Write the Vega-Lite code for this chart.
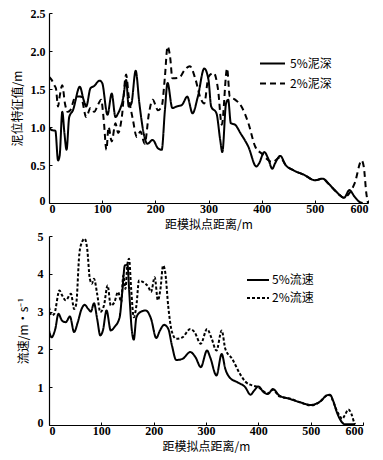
{
  "$schema": "https://vega.github.io/schema/vega-lite/v6.json",
  "padding": {"left": 11, "top": 7, "right": 3, "bottom": 1},
  "spacing": 0,
  "resolve": {"scale": {"strokeDash": "independent"}, "legend": {"strokeDash": "independent"}},
  "config": {
    "font": "Liberation Serif",
    "view": {"stroke": null},
    "axis": {
      "grid": false,
      "domainColor": "#000",
      "domainWidth": 1.2,
      "tickColor": "#000",
      "tickSize": -3,
      "labelFont": "Liberation Serif",
      "labelFontSize": 12,
      "labelFontWeight": "bold",
      "labelColor": "#000",
      "titleFont": "Noto Sans CJK SC",
      "titleFontSize": 12,
      "titleFontWeight": "normal",
      "titleColor": "#000"
    },
    "legend": {
      "labelFont": "Noto Sans CJK SC",
      "labelFontSize": 12,
      "labelColor": "#000",
      "symbolType": "stroke",
      "symbolStrokeColor": "#000",
      "symbolStrokeWidth": 2,
      "padding": 0,
      "title": null
    }
  },
  "vconcat": [
    {
      "width": 319,
      "height": 190,
      "data": {"values": [
        {"x":0,"y":1.0,"s":"5%泥深"},{"x":5,"y":0.96,"s":"5%泥深"},{"x":12,"y":0.95,"s":"5%泥深"},{"x":17,"y":0.56,"s":"5%泥深"},{"x":20,"y":0.62,"s":"5%泥深"},{"x":25,"y":1.2,"s":"5%泥深"},{"x":29,"y":0.92,"s":"5%泥深"},{"x":33,"y":0.7,"s":"5%泥深"},{"x":38,"y":1.13,"s":"5%泥深"},{"x":45,"y":1.22,"s":"5%泥深"},{"x":58,"y":1.53,"s":"5%泥深"},{"x":65,"y":1.36,"s":"5%泥深"},{"x":70,"y":1.27,"s":"5%泥深"},{"x":78,"y":1.51,"s":"5%泥深"},{"x":85,"y":1.54,"s":"5%泥深"},{"x":95,"y":1.61,"s":"5%泥深"},{"x":100,"y":1.58,"s":"5%泥深"},{"x":110,"y":1.16,"s":"5%泥深"},{"x":118,"y":1.44,"s":"5%泥深"},{"x":125,"y":1.13,"s":"5%泥深"},{"x":130,"y":1.18,"s":"5%泥深"},{"x":140,"y":1.4,"s":"5%泥深"},{"x":145,"y":1.62,"s":"5%泥深"},{"x":150,"y":1.27,"s":"5%泥深"},{"x":155,"y":1.31,"s":"5%泥深"},{"x":163,"y":1.74,"s":"5%泥深"},{"x":170,"y":1.31,"s":"5%泥深"},{"x":178,"y":0.92,"s":"5%泥深"},{"x":185,"y":0.78,"s":"5%泥深"},{"x":195,"y":0.83,"s":"5%泥深"},{"x":205,"y":0.72,"s":"5%泥深"},{"x":212,"y":0.7,"s":"5%泥深"},{"x":218,"y":1.22,"s":"5%泥深"},{"x":223,"y":1.58,"s":"5%泥深"},{"x":232,"y":1.25,"s":"5%泥深"},{"x":240,"y":1.27,"s":"5%泥深"},{"x":250,"y":1.29,"s":"5%泥深"},{"x":260,"y":1.4,"s":"5%泥深"},{"x":270,"y":1.18,"s":"5%泥深"},{"x":280,"y":1.4,"s":"5%泥深"},{"x":292,"y":1.77,"s":"5%泥深"},{"x":300,"y":1.62,"s":"5%泥深"},{"x":305,"y":1.27,"s":"5%泥深"},{"x":315,"y":1.18,"s":"5%泥深"},{"x":322,"y":0.83,"s":"5%泥深"},{"x":326,"y":0.67,"s":"5%泥深"},{"x":333,"y":1.31,"s":"5%泥深"},{"x":337,"y":1.36,"s":"5%泥深"},{"x":342,"y":1.05,"s":"5%泥深"},{"x":350,"y":1.03,"s":"5%泥深"},{"x":360,"y":0.92,"s":"5%泥深"},{"x":375,"y":0.74,"s":"5%泥深"},{"x":390,"y":0.48,"s":"5%泥深"},{"x":395,"y":0.52,"s":"5%泥深"},{"x":405,"y":0.67,"s":"5%泥深"},{"x":412,"y":0.59,"s":"5%泥深"},{"x":420,"y":0.45,"s":"5%泥深"},{"x":425,"y":0.52,"s":"5%泥深"},{"x":435,"y":0.62,"s":"5%泥深"},{"x":445,"y":0.5,"s":"5%泥深"},{"x":460,"y":0.43,"s":"5%泥深"},{"x":480,"y":0.37,"s":"5%泥深"},{"x":500,"y":0.3,"s":"5%泥深"},{"x":515,"y":0.32,"s":"5%泥深"},{"x":525,"y":0.26,"s":"5%泥深"},{"x":540,"y":0.15,"s":"5%泥深"},{"x":555,"y":0.07,"s":"5%泥深"},{"x":565,"y":0.17,"s":"5%泥深"},{"x":575,"y":0.08,"s":"5%泥深"},{"x":585,"y":0.01,"s":"5%泥深"},{"x":590,"y":0,"s":"5%泥深"},
        {"x":0,"y":1.66,"s":"2%泥深"},{"x":5,"y":1.62,"s":"2%泥深"},{"x":10,"y":1.55,"s":"2%泥深"},{"x":13,"y":1.51,"s":"2%泥深"},{"x":17,"y":1.27,"s":"2%泥深"},{"x":20,"y":1.4,"s":"2%泥深"},{"x":25,"y":1.55,"s":"2%泥深"},{"x":30,"y":1.31,"s":"2%泥深"},{"x":35,"y":1.2,"s":"2%泥深"},{"x":40,"y":1.22,"s":"2%泥深"},{"x":50,"y":1.4,"s":"2%泥深"},{"x":60,"y":1.4,"s":"2%泥深"},{"x":70,"y":1.13,"s":"2%泥深"},{"x":78,"y":1.25,"s":"2%泥深"},{"x":85,"y":1.2,"s":"2%泥深"},{"x":92,"y":1.29,"s":"2%泥深"},{"x":98,"y":1.36,"s":"2%泥深"},{"x":103,"y":1.09,"s":"2%泥深"},{"x":108,"y":0.7,"s":"2%泥深"},{"x":112,"y":1.0,"s":"2%泥深"},{"x":118,"y":0.81,"s":"2%泥深"},{"x":125,"y":1.05,"s":"2%泥深"},{"x":130,"y":0.92,"s":"2%泥深"},{"x":137,"y":1.13,"s":"2%泥深"},{"x":145,"y":1.69,"s":"2%泥深"},{"x":150,"y":1.4,"s":"2%泥深"},{"x":158,"y":1.09,"s":"2%泥深"},{"x":165,"y":0.87,"s":"2%泥深"},{"x":172,"y":0.94,"s":"2%泥深"},{"x":180,"y":0.78,"s":"2%泥深"},{"x":188,"y":1.18,"s":"2%泥深"},{"x":195,"y":1.36,"s":"2%泥深"},{"x":205,"y":1.22,"s":"2%泥深"},{"x":212,"y":1.27,"s":"2%泥深"},{"x":218,"y":1.66,"s":"2%泥深"},{"x":223,"y":2.06,"s":"2%泥深"},{"x":228,"y":1.91,"s":"2%泥深"},{"x":232,"y":1.64,"s":"2%泥深"},{"x":245,"y":1.65,"s":"2%泥深"},{"x":255,"y":1.75,"s":"2%泥深"},{"x":265,"y":1.8,"s":"2%泥深"},{"x":275,"y":1.64,"s":"2%泥深"},{"x":285,"y":1.38,"s":"2%泥深"},{"x":292,"y":1.31,"s":"2%泥深"},{"x":300,"y":1.66,"s":"2%泥深"},{"x":310,"y":1.71,"s":"2%泥深"},{"x":318,"y":1.49,"s":"2%泥深"},{"x":325,"y":1.03,"s":"2%泥深"},{"x":335,"y":1.77,"s":"2%泥深"},{"x":340,"y":1.4,"s":"2%泥深"},{"x":350,"y":1.36,"s":"2%泥深"},{"x":362,"y":1.27,"s":"2%泥深"},{"x":375,"y":1.05,"s":"2%泥深"},{"x":388,"y":0.74,"s":"2%泥深"},{"x":400,"y":0.65,"s":"2%泥深"},{"x":420,"y":0.54,"s":"2%泥深"},{"x":435,"y":0.6,"s":"2%泥深"},{"x":445,"y":0.5,"s":"2%泥深"},{"x":460,"y":0.43,"s":"2%泥深"},{"x":480,"y":0.37,"s":"2%泥深"},{"x":500,"y":0.3,"s":"2%泥深"},{"x":515,"y":0.32,"s":"2%泥深"},{"x":525,"y":0.26,"s":"2%泥深"},{"x":540,"y":0.15,"s":"2%泥深"},{"x":555,"y":0.07,"s":"2%泥深"},{"x":565,"y":0.13,"s":"2%泥深"},{"x":575,"y":0.26,"s":"2%泥深"},{"x":588,"y":0.56,"s":"2%泥深"},{"x":592,"y":0.48,"s":"2%泥深"},{"x":597,"y":0.12,"s":"2%泥深"},{"x":600,"y":0,"s":"2%泥深"}
      ]},
      "mark": {"type": "line", "color": "#000", "strokeWidth": 2, "interpolate": "monotone", "clip": true},
      "encoding": {
        "x": {"field": "x", "type": "quantitative", "scale": {"domain": [0, 600], "nice": false},
          "axis": {"values": [0,100,200,300,400,500,600], "title": "距模拟点距离/m", "titlePadding": 5, "labelPadding": 3}},
        "y": {"field": "y", "type": "quantitative", "scale": {"domain": [0, 2.5], "nice": false},
          "axis": {"values": [0,0.5,1,1.5,2,2.5], "labelExpr": "datum.value == 0 ? '0' : format(datum.value, '.1f')",
            "labelOffset": {"condition": {"test": "datum.value == 0", "value": -3}, "value": 0},
            "title": "泥位特征值/m", "titlePadding": 6, "labelPadding": 7}},
        "strokeDash": {"field": "s", "type": "nominal",
          "scale": {"domain": ["5%泥深", "2%泥深"], "range": [[1, 0], [6, 4]]},
          "legend": {"orient": "none", "legendX": 210, "legendY": 37, "symbolSize": 625, "rowPadding": -7, "labelOffset": 4}},
        "detail": {"field": "s"}
      }
    },
    {
      "width": 314,
      "height": 189,
      "data": {"values": [
        {"x":0,"y":2.5,"s":"5%流速"},{"x":5,"y":2.32,"s":"5%流速"},{"x":12,"y":2.54,"s":"5%流速"},{"x":18,"y":2.94,"s":"5%流速"},{"x":25,"y":2.76,"s":"5%流速"},{"x":32,"y":2.72,"s":"5%流速"},{"x":40,"y":2.87,"s":"5%流速"},{"x":48,"y":2.46,"s":"5%流速"},{"x":55,"y":2.72,"s":"5%流速"},{"x":62,"y":3.06,"s":"5%流速"},{"x":68,"y":3.18,"s":"5%流速"},{"x":75,"y":3.07,"s":"5%流速"},{"x":80,"y":3.0,"s":"5%流速"},{"x":86,"y":3.22,"s":"5%流速"},{"x":92,"y":2.81,"s":"5%流速"},{"x":98,"y":2.37,"s":"5%流速"},{"x":103,"y":2.5,"s":"5%流速"},{"x":110,"y":3.03,"s":"5%流速"},{"x":118,"y":2.5,"s":"5%流速"},{"x":125,"y":2.59,"s":"5%流速"},{"x":135,"y":2.85,"s":"5%流速"},{"x":140,"y":3.52,"s":"5%流速"},{"x":145,"y":4.22,"s":"5%流速"},{"x":150,"y":4.24,"s":"5%流速"},{"x":153,"y":3.6,"s":"5%流速"},{"x":158,"y":2.54,"s":"5%流速"},{"x":162,"y":2.26,"s":"5%流速"},{"x":167,"y":2.85,"s":"5%流速"},{"x":175,"y":2.99,"s":"5%流速"},{"x":185,"y":3.03,"s":"5%流速"},{"x":195,"y":2.81,"s":"5%流速"},{"x":205,"y":2.3,"s":"5%流速"},{"x":212,"y":2.5,"s":"5%流速"},{"x":220,"y":2.65,"s":"5%流速"},{"x":228,"y":2.54,"s":"5%流速"},{"x":235,"y":2.1,"s":"5%流速"},{"x":243,"y":1.72,"s":"5%流速"},{"x":255,"y":1.75,"s":"5%流速"},{"x":270,"y":1.93,"s":"5%流速"},{"x":280,"y":1.79,"s":"5%流速"},{"x":290,"y":1.53,"s":"5%流速"},{"x":302,"y":1.97,"s":"5%流速"},{"x":308,"y":1.79,"s":"5%流速"},{"x":320,"y":1.31,"s":"5%流速"},{"x":330,"y":1.88,"s":"5%流速"},{"x":337,"y":1.48,"s":"5%流速"},{"x":345,"y":1.26,"s":"5%流速"},{"x":360,"y":1.13,"s":"5%流速"},{"x":375,"y":1.0,"s":"5%流速"},{"x":385,"y":0.8,"s":"5%流速"},{"x":392,"y":0.91,"s":"5%流速"},{"x":400,"y":1.02,"s":"5%流速"},{"x":410,"y":0.87,"s":"5%流速"},{"x":418,"y":0.82,"s":"5%流速"},{"x":428,"y":0.95,"s":"5%流速"},{"x":440,"y":0.78,"s":"5%流速"},{"x":460,"y":0.69,"s":"5%流速"},{"x":480,"y":0.6,"s":"5%流速"},{"x":500,"y":0.53,"s":"5%流速"},{"x":510,"y":0.56,"s":"5%流速"},{"x":520,"y":0.64,"s":"5%流速"},{"x":530,"y":0.78,"s":"5%流速"},{"x":537,"y":0.8,"s":"5%流速"},{"x":543,"y":0.64,"s":"5%流速"},{"x":550,"y":0.34,"s":"5%流速"},{"x":560,"y":0.07,"s":"5%流速"},{"x":565,"y":0.02,"s":"5%流速"},{"x":585,"y":0.02,"s":"5%流速"},
        {"x":0,"y":3.12,"s":"2%流速"},{"x":5,"y":2.9,"s":"2%流速"},{"x":10,"y":2.94,"s":"2%流速"},{"x":20,"y":3.56,"s":"2%流速"},{"x":25,"y":3.43,"s":"2%流速"},{"x":32,"y":3.3,"s":"2%流速"},{"x":42,"y":3.47,"s":"2%流速"},{"x":48,"y":3.07,"s":"2%流速"},{"x":52,"y":3.2,"s":"2%流速"},{"x":58,"y":4.53,"s":"2%流速"},{"x":63,"y":4.84,"s":"2%流速"},{"x":68,"y":4.93,"s":"2%流速"},{"x":73,"y":4.66,"s":"2%流速"},{"x":78,"y":3.87,"s":"2%流速"},{"x":82,"y":3.74,"s":"2%流速"},{"x":86,"y":3.87,"s":"2%流速"},{"x":92,"y":3.47,"s":"2%流速"},{"x":98,"y":2.99,"s":"2%流速"},{"x":105,"y":3.16,"s":"2%流速"},{"x":112,"y":3.69,"s":"2%流速"},{"x":118,"y":3.16,"s":"2%流速"},{"x":125,"y":3.25,"s":"2%流速"},{"x":132,"y":3.52,"s":"2%流速"},{"x":138,"y":3.25,"s":"2%流速"},{"x":142,"y":3.96,"s":"2%流速"},{"x":146,"y":3.6,"s":"2%流速"},{"x":150,"y":4.27,"s":"2%流速"},{"x":153,"y":4.4,"s":"2%流速"},{"x":157,"y":3.6,"s":"2%流速"},{"x":162,"y":2.85,"s":"2%流速"},{"x":167,"y":3.16,"s":"2%流速"},{"x":172,"y":3.82,"s":"2%流速"},{"x":180,"y":3.78,"s":"2%流速"},{"x":190,"y":3.65,"s":"2%流速"},{"x":195,"y":3.52,"s":"2%流速"},{"x":202,"y":3.91,"s":"2%流速"},{"x":208,"y":3.3,"s":"2%流速"},{"x":213,"y":3.6,"s":"2%流速"},{"x":218,"y":4.22,"s":"2%流速"},{"x":222,"y":4.05,"s":"2%流速"},{"x":228,"y":3.12,"s":"2%流速"},{"x":235,"y":2.46,"s":"2%流速"},{"x":243,"y":2.28,"s":"2%流速"},{"x":255,"y":2.32,"s":"2%流速"},{"x":270,"y":2.54,"s":"2%流速"},{"x":278,"y":2.46,"s":"2%流速"},{"x":290,"y":2.15,"s":"2%流速"},{"x":302,"y":2.54,"s":"2%流速"},{"x":310,"y":2.32,"s":"2%流速"},{"x":320,"y":1.97,"s":"2%流速"},{"x":330,"y":2.5,"s":"2%流速"},{"x":337,"y":2.01,"s":"2%流速"},{"x":350,"y":1.75,"s":"2%流速"},{"x":365,"y":1.35,"s":"2%流速"},{"x":375,"y":1.15,"s":"2%流速"},{"x":390,"y":1.04,"s":"2%流速"},{"x":400,"y":1.0,"s":"2%流速"},{"x":410,"y":0.89,"s":"2%流速"},{"x":418,"y":0.84,"s":"2%流速"},{"x":428,"y":0.93,"s":"2%流速"},{"x":440,"y":0.76,"s":"2%流速"},{"x":460,"y":0.7,"s":"2%流速"},{"x":480,"y":0.6,"s":"2%流速"},{"x":500,"y":0.52,"s":"2%流速"},{"x":510,"y":0.55,"s":"2%流速"},{"x":520,"y":0.65,"s":"2%流速"},{"x":530,"y":0.77,"s":"2%流速"},{"x":537,"y":0.79,"s":"2%流速"},{"x":543,"y":0.62,"s":"2%流速"},{"x":550,"y":0.38,"s":"2%流速"},{"x":555,"y":0.25,"s":"2%流速"},{"x":560,"y":0.16,"s":"2%流速"},{"x":565,"y":0.25,"s":"2%流速"},{"x":572,"y":0.41,"s":"2%流速"},{"x":578,"y":0.29,"s":"2%流速"},{"x":583,"y":0.07,"s":"2%流速"},{"x":585,"y":0.02,"s":"2%流速"}
      ]},
      "mark": {"type": "line", "color": "#000", "strokeWidth": 2, "interpolate": "monotone", "clip": true},
      "encoding": {
        "x": {"field": "x", "type": "quantitative", "scale": {"domain": [0, 600], "nice": false},
          "axis": {"values": [0,100,200,300,400,500,600], "title": "距模拟点距离/m", "titlePadding": 5, "labelPadding": 3}},
        "y": {"field": "y", "type": "quantitative", "scale": {"domain": [0, 5], "nice": false},
          "axis": {"values": [0,1,2,3,4,5],
            "labelOffset": {"condition": {"test": "datum.value == 0", "value": -3}, "value": 0},
            "title": "流速/m·s⁻¹", "titlePadding": 7, "labelPadding": 9}},
        "strokeDash": {"field": "s", "type": "nominal",
          "scale": {"domain": ["5%流速", "2%流速"], "range": [[1, 0], [3, 2]]},
          "legend": {"orient": "none", "legendX": 197, "legendY": 32, "symbolSize": 484, "rowPadding": -4, "labelOffset": 2}},
        "detail": {"field": "s"}
      }
    }
  ]
}
